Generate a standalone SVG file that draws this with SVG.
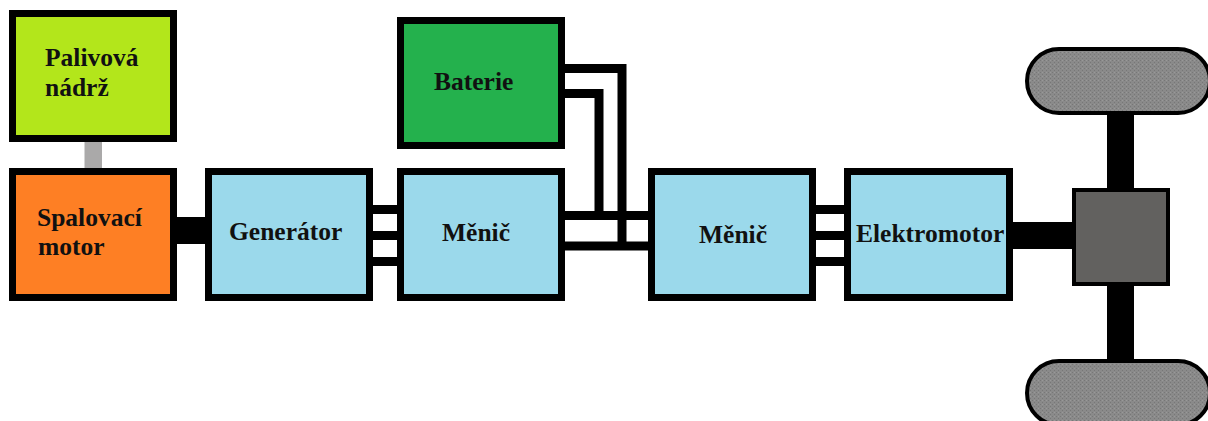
<svg xmlns="http://www.w3.org/2000/svg" width="1208" height="421" viewBox="0 0 1208 421">
<style>
.box{stroke:#000;stroke-width:7}
.blue{fill:#9bd9eb}
.wire{fill:none;stroke:#000;stroke-width:9}
.shaft{fill:#000}
.wheel{fill:url(#dither);stroke:#000;stroke-width:4}
text{font-family:"Liberation Serif","Times New Roman",serif;font-weight:bold;font-size:25.5px;fill:#111}
</style>
<defs>
<pattern id="dither" width="4" height="4" patternUnits="userSpaceOnUse">
<rect width="4" height="4" fill="#8a8a8a"/>
<rect width="1" height="1" fill="#777"/>
<rect x="2" y="2" width="1" height="1" fill="#777"/>
<rect x="2" width="1" height="1" fill="#999"/>
</pattern>
</defs>
<g id="connectors">
<rect x="84.500" y="140" width="17.500" height="30" fill="#aaa9a9"/>
<rect class="shaft" x="175" y="217" width="32" height="27"/>
<path class="wire" d="M371 209.500H399M371 235.500H399M371 261.500H399"/>
<path class="wire" d="M563 215.500H650M563 246H650"/>
<path class="wire" d="M563 68.500H622V246"/>
<path class="wire" d="M563 93.500H599V215"/>
<path class="wire" d="M814 209.500H846M814 235.500H846M814 261.500H846"/>
<rect class="shaft" x="1011" y="222" width="63" height="27"/>
<rect class="shaft" x="1107" y="112" width="27" height="78"/>
<rect class="shaft" x="1107" y="284" width="27" height="78"/>
</g>
<g id="palivova-nadrz">
<rect class="box" x="12.500" y="13.500" width="161" height="125" fill="#b3e61b"/>
<text x="45" y="66">Palivová</text>
<text x="45" y="96">nádrž</text>
</g>
<g id="spalovaci-motor">
<rect class="box" x="12.500" y="171.500" width="161" height="126" fill="#fe7f24"/>
<text x="37" y="226">Spalovací</text>
<text x="38" y="255">motor</text>
</g>
<g id="generator">
<rect class="box blue" x="208.500" y="171.500" width="161" height="126"/>
<text x="229" y="240">Generátor</text>
</g>
<g id="menic-1">
<rect class="box blue" x="400.500" y="171.500" width="161" height="126"/>
<text x="442" y="241">Měnič</text>
</g>
<g id="baterie">
<rect class="box" x="400.500" y="20.500" width="161" height="125" fill="#24b14d"/>
<text x="434" y="90">Baterie</text>
</g>
<g id="menic-2">
<rect class="box blue" x="651.500" y="171.500" width="161" height="126"/>
<text x="699" y="243">Měnič</text>
</g>
<g id="elektromotor">
<rect class="box blue" x="847.500" y="171.500" width="162" height="126"/>
<text x="856" y="242">Elektromotor</text>
</g>
<g id="diferencial">
<rect x="1074" y="190" width="94" height="94" fill="#62615f" stroke="#000" stroke-width="4"/>
</g>
<g id="kolo-horni">
<rect class="wheel" x="1027" y="49" width="183" height="64" rx="32" ry="32"/>
</g>
<g id="kolo-dolni">
<rect class="wheel" x="1027" y="361" width="183" height="64" rx="32" ry="32"/>
</g>
</svg>
